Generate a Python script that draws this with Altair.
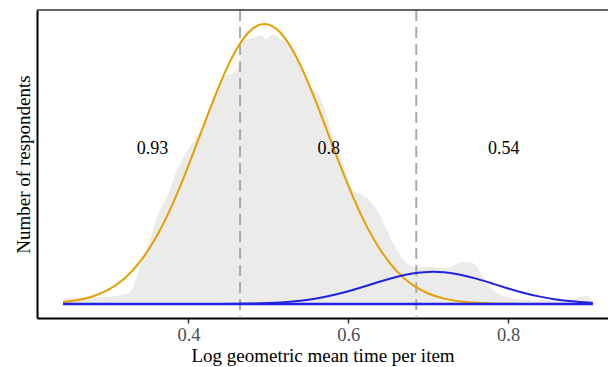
import altair as alt
import pandas as pd

# ---- data ----
# empirical density (grey area)
dens_x = [0.2432, 0.2643, 0.2893, 0.3105, 0.3268, 0.3393, 0.3518, 0.3618, 0.3731, 0.3856,
          0.4019, 0.4106, 0.4269, 0.4432, 0.4557, 0.4644, 0.4682, 0.4807, 0.4895, 0.4978,
          0.5053, 0.5158, 0.5266, 0.5358, 0.5521, 0.5646, 0.5734, 0.5809, 0.5934, 0.6059,
          0.6234, 0.6359, 0.6484, 0.6609, 0.6734, 0.6859, 0.6984, 0.7148, 0.7235, 0.7436,
          0.7561, 0.7686, 0.7811, 0.7987, 0.8311, 0.8737, 0.8987, 0.9062]
dens_y = [0.020, 0.023, 0.025, 0.029, 0.043, 0.129, 0.229, 0.318, 0.382, 0.479,
          0.561, 0.596, 0.686, 0.811, 0.825, 0.871, 0.939, 0.950, 0.961, 0.946,
          0.963, 0.945, 0.925, 0.871, 0.775, 0.739, 0.671, 0.596, 0.504, 0.407,
          0.379, 0.336, 0.264, 0.193, 0.146, 0.129, 0.133, 0.129, 0.129, 0.151,
          0.146, 0.098, 0.050, 0.026, 0.014, 0.014, 0.029, 0.008]

# fitted component curves
grid_x = [0.243, 0.26, 0.28, 0.30, 0.32, 0.34, 0.36, 0.38, 0.40, 0.42, 0.44, 0.46,
          0.48, 0.50, 0.52, 0.54, 0.56, 0.58, 0.60, 0.62, 0.64, 0.66, 0.68, 0.70,
          0.72, 0.74, 0.76, 0.78, 0.80, 0.82, 0.84, 0.86, 0.88, 0.90, 0.906]
orange_y = [0.0070, 0.0134, 0.0270, 0.0513, 0.0914, 0.1531, 0.2408, 0.3559, 0.4941,
            0.6444, 0.7895, 0.9087, 0.9826, 0.9980, 0.9523, 0.8537, 0.7188, 0.5687,
            0.4226, 0.2950, 0.1935, 0.1192, 0.0690, 0.0375, 0.0192, 0.0092, 0.0041,
            0.0018, 0.0007, 0.0003, 0.0001, 0.0, 0.0, 0.0, 0.0]
blue_y = [0.0, 0.0, 0.0, 0.0, 0.0, 0.0, 0.0, 0.0, 0.0, 0.0001, 0.0003, 0.0008,
          0.0017, 0.0035, 0.0067, 0.0119, 0.0199, 0.0312, 0.0457, 0.0626, 0.0804,
          0.0966, 0.1088, 0.1147, 0.1132, 0.1046, 0.0905, 0.0733, 0.0556, 0.0395,
          0.0263, 0.0164, 0.0096, 0.0052, 0.0043]
base_x = [0.243, 0.906]
base_y = [0.0, 0.0]

cutoffs = [0.4646, 0.6851]
label_x = [0.355, 0.5755, 0.7945]
label_y = [0.555, 0.555, 0.555]
label_text = ["0.93", "0.8", "0.54"]

tick_values = [0.4, 0.6, 0.8]

FONT = "Liberation Serif"
W, H = 571, 308

dens_df = pd.DataFrame({"x": dens_x, "y": dens_y})
orange_df = pd.DataFrame({"x": grid_x, "y": orange_y})
blue_df = pd.DataFrame({"x": grid_x, "y": blue_y})
base_df = pd.DataFrame({"x": base_x, "y": base_y})
cut_df = pd.DataFrame({"x": cutoffs})
lab_df = pd.DataFrame({"x": label_x, "y": label_y, "t": label_text})

xscale = alt.Scale(domain=[0.2105, 0.925], nice=False, zero=False)
yscale = alt.Scale(domain=[-0.05, 1.05], nice=False, zero=False)
xaxis = alt.Axis(title="Log geometric mean time per item", values=tick_values,
                 format=".1f", grid=False)
yaxis = alt.Axis(title="Number of respondents", labels=False, ticks=False, grid=False)

X = alt.X("x:Q", scale=xscale, axis=xaxis)
Y = alt.Y("y:Q", scale=yscale, axis=yaxis)

area = alt.Chart(dens_df).mark_area(color="#ebebeb", interpolate="monotone").encode(x=X, y=Y)
cuts = alt.Chart(cut_df).mark_rule(color="#aaaaaa", strokeWidth=2, strokeDash=[11, 6]).encode(x=X)
orange = alt.Chart(orange_df).mark_line(color="#E69F00", strokeWidth=2,
                                         interpolate="natural").encode(x=X, y=Y)
blue = alt.Chart(blue_df).mark_line(color="#2222e0", strokeWidth=2,
                                     interpolate="natural").encode(x=X, y=Y)
base = alt.Chart(base_df).mark_line(color="#2222e0", strokeWidth=2.5).encode(x=X, y=Y)
labels = alt.Chart(lab_df).mark_text(font=FONT, fontSize=18, color="black",
                                      baseline="middle").encode(x=X, y=Y, text="t:N")
top = alt.Chart(cut_df).mark_rule(color="#333333", strokeWidth=1).encode(
    x=alt.value(0), x2=alt.value(W), y=alt.value(0))

chart = alt.layer(area, cuts, orange, blue, base, labels, top).properties(
    width=W, height=H,
    autosize=alt.AutoSizeParams(type="none"),
    padding={"left": 37, "top": 10, "right": 0, "bottom": 49},
).configure_view(stroke=None).configure_axis(
    domainColor="black", domainWidth=2, tickColor="#333333", tickWidth=1.5,
    tickSize=5, labelFont=FONT, labelFontSize=18.5, labelColor="#4d4d4d",
    labelPadding=2, titleFont=FONT, titleFontSize=19, titleColor="black",
    titleFontWeight="normal",
).configure_axisX(titlePadding=3).configure_axisY(titlePadding=4)

chart.save("out.html", embed_options={"renderer": "svg", "actions": False})
